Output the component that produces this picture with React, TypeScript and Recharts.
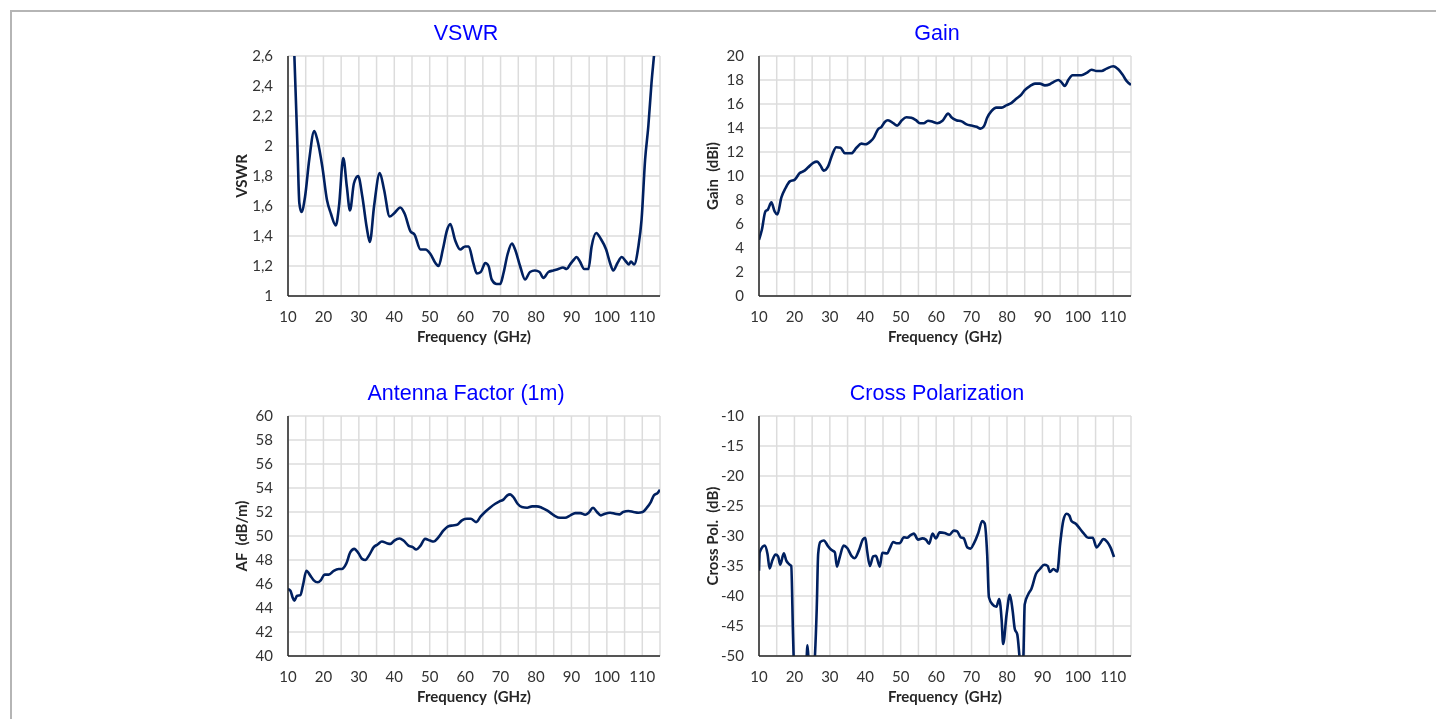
import { LineChart, Line, XAxis, YAxis, CartesianGrid } from "recharts";

// frequency grid / tick positions (GHz)
const freqTicks = [10, 15, 20, 25, 30, 35, 40, 45, 50, 55, 60, 65, 70, 75, 80, 85, 90, 95, 100, 105, 110, 115];

// VSWR
const vswrFreq = [
  10, 11, 11.8, 12.7, 13.2, 13.8, 14.8, 16.0, 17.4, 18.3,
  19.7, 21.0, 22.1, 23.5, 24.4, 25.6, 26.6, 27.5, 28.6, 29.8,
  31.0, 32.2, 33.1, 34.3, 35.9, 37.1, 38.7, 39.9, 41.7, 42.9,
  44.6, 45.7, 47.4, 48.8, 50.2, 51.6, 52.5, 53.7, 54.9, 55.8,
  57.2, 58.6, 60.0, 61.0, 62.3, 63.3, 64.4, 65.7, 66.6, 67.5,
  68.9, 69.9, 70.8, 72.0, 73.2, 74.1, 75.5, 76.9, 78.3, 79.7,
  81.0, 82.1, 83.5, 84.9, 86.3, 87.6, 88.7, 89.6, 90.6, 91.5,
  92.4, 93.6, 94.8, 95.7, 97.0, 98.3, 99.8, 100.9, 101.8, 103.0,
  104.2, 105.4, 106.2, 106.8, 107.7, 108.9, 109.8, 110.8, 111.7, 112.6,
  113.3, 114.2, 115,
];
const vswrValues = [
  3.4, 3.0, 2.6, 1.97, 1.62, 1.56, 1.66, 1.91, 2.10, 2.04,
  1.86, 1.64, 1.55, 1.47, 1.6, 1.92, 1.73, 1.57, 1.75, 1.8,
  1.66, 1.46, 1.36, 1.6, 1.82, 1.71, 1.53, 1.55, 1.59, 1.55,
  1.43, 1.41, 1.31, 1.31, 1.28, 1.22, 1.2, 1.31, 1.44, 1.48,
  1.37, 1.31, 1.33, 1.33, 1.22, 1.15, 1.16, 1.22, 1.2, 1.11,
  1.08, 1.08, 1.15, 1.28, 1.35, 1.31, 1.2, 1.11, 1.16, 1.17,
  1.16, 1.12, 1.16, 1.17, 1.18, 1.19, 1.18, 1.21, 1.24, 1.26,
  1.23, 1.18, 1.18, 1.33, 1.42, 1.38, 1.31, 1.22, 1.17, 1.22,
  1.26, 1.23, 1.21, 1.23, 1.21, 1.33, 1.51, 1.91, 2.13, 2.42,
  2.6, 2.85, 3.05,
];
const vswrTicks = [1, 1.2, 1.4, 1.6, 1.8, 2, 2.2, 2.4, 2.6];

// Gain (dBi)
const gainFreq = [
  10, 10.8, 11.8, 12.5, 13.5, 14.4, 15.2, 16.3, 17.5, 18.7,
  20.1, 21.5, 22.6, 23.8, 25.3, 26.4, 27.3, 28.3, 29.5, 30.7,
  31.8, 33.0, 34.2, 36.1, 37.5, 38.9, 40.1, 41.5, 42.4, 43.6,
  44.6, 45.5, 46.4, 47.9, 49.0, 50.2, 51.6, 53.0, 54.3, 55.4,
  56.5, 57.7, 59.2, 60.3, 61.8, 63.4, 64.3, 65.7, 67.2, 68.6,
  70.0, 71.4, 72.5, 73.5, 74.4, 75.6, 77.0, 78.5, 79.9, 81.3,
  82.7, 84.1, 85.0, 86.5, 87.9, 89.3, 90.7, 92.1, 93.2, 94.5,
  95.4, 96.3, 97.3, 98.5, 99.6, 101.0, 102.5, 103.9, 105.3, 106.7,
  108.1, 110.0, 111.4, 112.6, 113.8, 115,
];
const gainValues = [
  4.68, 5.5, 7.05, 7.2, 7.8, 7.05, 6.8, 8.2, 9.0, 9.55,
  9.7, 10.25, 10.4, 10.7, 11.1, 11.2, 10.9, 10.45, 10.8, 11.8,
  12.4, 12.35, 11.9, 11.9, 12.35, 12.7, 12.65, 12.9, 13.2, 13.9,
  14.1, 14.5, 14.65, 14.4, 14.2, 14.6, 14.9, 14.85, 14.65, 14.4,
  14.4, 14.6, 14.5, 14.4, 14.6, 15.2, 14.9, 14.65, 14.55, 14.3,
  14.2, 14.1, 13.95, 14.15, 14.85, 15.4, 15.7, 15.7, 15.9, 16.1,
  16.45, 16.8, 17.15, 17.5, 17.7, 17.7, 17.55, 17.65, 17.85, 18.0,
  17.8, 17.5, 18.0, 18.4, 18.4, 18.4, 18.6, 18.85, 18.75, 18.75,
  18.95, 19.15, 18.9, 18.45, 17.9, 17.6,
];
const gainTicks = [0, 2, 4, 6, 8, 10, 12, 14, 16, 18, 20];

// Antenna factor (dB/m)
const afFreq = [
  10, 10.7, 11.3, 11.8, 12.5, 13.5, 14.2, 15.2, 16.3, 17.2,
  18.4, 19.3, 20.3, 21.5, 22.9, 24.3, 25.2, 26.4, 27.6, 28.7,
  29.9, 30.9, 31.8, 33.0, 34.2, 35.3, 36.5, 37.9, 38.9, 40.0,
  41.5, 42.6, 44.0, 45.2, 46.2, 47.3, 48.7, 50.1, 51.1, 52.5,
  53.9, 55.3, 56.5, 57.7, 59.1, 60.5, 61.6, 63.1, 64.4, 65.6,
  67.0, 68.5, 69.7, 70.8, 71.9, 72.7, 73.6, 74.8, 76.0, 77.5,
  78.9, 80.2, 81.6, 83.1, 84.2, 85.4, 86.8, 88.2, 89.7, 91.1,
  92.5, 93.9, 94.8, 96.1, 97.2, 98.3, 99.5, 100.9, 102.3, 103.5,
  104.6, 106.1, 107.5, 108.9, 110.1, 111.3, 112.4, 113.3, 114.3, 115,
];
const afValues = [
  45.58, 45.44, 44.88, 44.6, 45.0, 45.08, 45.86, 47.1, 46.7, 46.33,
  46.14, 46.33, 46.78, 46.78, 47.1, 47.25, 47.25, 47.67, 48.65, 48.93,
  48.56, 48.09, 48.0, 48.45, 49.07, 49.29, 49.54, 49.4, 49.34, 49.62,
  49.79, 49.62, 49.2, 49.07, 48.87, 49.15, 49.76, 49.62, 49.54, 49.9,
  50.46, 50.82, 50.88, 50.93, 51.3, 51.44, 51.44, 51.16, 51.63, 52.0,
  52.36, 52.69, 52.89, 53.03, 53.39, 53.47, 53.25, 52.69, 52.41, 52.36,
  52.47, 52.47, 52.36, 52.13, 51.91, 51.66, 51.52, 51.52, 51.72, 51.91,
  51.91, 51.77, 51.91, 52.36, 52.0, 51.72, 51.86, 51.94, 51.86, 51.8,
  52.0, 52.08, 52.0, 51.94, 52.0, 52.36, 52.83, 53.39, 53.58, 53.86,
];
const afTicks = [40, 42, 44, 46, 48, 50, 52, 54, 56, 58, 60];

// Cross polarization (dB)
const xpolFreq = [
  10, 10.2, 11.6, 12.4, 13.0, 13.8, 14.7, 15.4, 16.0, 17.0,
  17.7, 18.5, 19.1, 19.6, 19.9, 21.0, 22.5, 23.3, 23.7, 24.1,
  25.0, 25.7, 26.3, 26.7, 27.3, 28.3, 29.5, 30.4, 31.4, 32.0,
  32.8, 33.9, 34.9, 36.1, 37.0, 38.2, 39.4, 40.0, 40.5, 41.3,
  42.2, 43.0, 44.1, 44.8, 46.2, 46.9, 47.9, 48.8, 49.7, 50.9,
  51.8, 52.7, 53.7, 54.9, 56.1, 57.1, 58.0, 59.0, 59.9, 61.0,
  62.4, 63.7, 65.0, 65.9, 66.9, 67.8, 68.8, 69.7, 70.6, 71.9,
  73.0, 73.7, 74.4, 74.9, 75.9, 77.0, 77.8, 78.5, 78.9, 79.9,
  80.8, 81.6, 82.2, 82.9, 83.6, 84.1, 84.6, 85.0, 86.0, 86.9,
  88.2, 89.3, 90.5, 91.5, 92.1, 93.1, 94.2, 95.0, 95.9, 96.8,
  97.6, 98.2, 99.5, 100.6, 101.7, 102.9, 104.2, 105.3, 106.2, 107.2,
  108.3, 109.2, 110.2,
];
const xpolValues = [
  -35.8, -32.7, -31.6, -33.0, -35.4, -34.0, -33.1, -33.4, -34.8, -32.9,
  -34.1, -34.7, -35.0, -46.4, -52, -57, -56, -52, -48.2, -52,
  -55, -51, -42, -33, -31.0, -30.75, -31.7, -32.3, -32.7, -35.1,
  -33.5, -31.6, -32.0, -33.3, -33.7, -32.4, -30.5, -30.3, -32.4, -35.0,
  -33.4, -33.3, -35.1, -32.8, -32.9, -32.1, -31.0, -31.2, -31.2, -30.2,
  -30.3, -29.9, -29.6, -30.6, -30.4, -30.6, -31.3, -29.6, -30.4, -29.4,
  -29.5, -29.8, -29.1, -29.2, -30.2, -30.4, -31.9, -32.1, -31.3, -29.5,
  -27.5, -27.9, -33.0, -40.2, -41.4, -41.8, -40.5, -44.1, -48.0, -43.0,
  -39.8, -42.5, -45.5, -46.4, -50.5, -53, -50.5, -41.4, -39.7, -38.8,
  -36.3, -35.5, -34.8, -35.0, -36.0, -35.5, -35.9, -31.3, -27.4, -26.3,
  -26.6, -27.5, -28.0, -28.8, -29.6, -30.3, -30.3, -31.9, -31.3, -30.5,
  -31.0, -31.9, -33.5,
];
const xpolTicks = [-50, -45, -40, -35, -30, -25, -20, -15, -10];

const tickFont = { fontFamily: "Lato, sans-serif", fontSize: 15, fill: "#333333" };
const axisTitle: React.CSSProperties = {
  position: "absolute",
  fontFamily: "Lato, sans-serif",
  fontSize: 15,
  fontWeight: 700,
  color: "#262626",
  whiteSpace: "pre",
};

function Panel(props: {
  title: string;
  yLabel: string;
  freq: number[];
  values: number[];
  yDomain: [number, number];
  yTicks: number[];
  fmt?: (v: number) => string;
  left: number;
  top: number;
}) {
  const data = props.freq.map((f, i) => ({ f, v: props.values[i] }));
  return (
    <div style={{ position: "absolute", left: props.left, top: props.top, width: 462, height: 310 }}>
      <div
        style={{
          position: "absolute",
          top: -25,
          left: 0,
          width: 516,
          textAlign: "center",
          lineHeight: "24px",
          fontFamily: "'Liberation Sans', Arial, sans-serif",
          fontSize: 21.5,
          color: "#0000ff",
        }}
      >
        {props.title}
      </div>
      <div style={{ ...axisTitle, left: 33, top: 130, transform: "translate(-50%, -50%) rotate(-90deg)" }}>
        {props.yLabel}
      </div>
      <div style={{ ...axisTitle, left: 266, top: 290, transform: "translate(-50%, -50%)" }}>
        {"Frequency  (GHz)"}
      </div>
      <LineChart width={462} height={310} data={data} margin={{ top: 10, right: 10, bottom: 0, left: 0 }}>
        <CartesianGrid stroke="#dcdcdc" strokeWidth={1.5} />
        <XAxis
          type="number"
          dataKey="f"
          domain={[10, 115]}
          ticks={freqTicks}
          interval={0}
          allowDataOverflow
          tickFormatter={(v: number) => (v % 10 === 0 && v <= 110 ? String(v) : "")}
          tickLine={false}
          tickMargin={9}
          axisLine={{ stroke: "#262626", strokeWidth: 1.5 }}
          tick={tickFont}
          height={60}
        />
        <YAxis
          type="number"
          domain={props.yDomain}
          ticks={props.yTicks}
          interval={0}
          allowDataOverflow
          tickFormatter={props.fmt}
          tickLine={false}
          tickMargin={9}
          axisLine={{ stroke: "#262626", strokeWidth: 1.5 }}
          tick={tickFont}
          width={80}
        />
        <Line
          type="monotone"
          dataKey="v"
          stroke="#002060"
          strokeWidth={2.6}
          dot={false}
          isAnimationActive={false}
        />
      </LineChart>
    </div>
  );
}

export default function App() {
  return (
    <div style={{ position: "relative", width: 1420, height: 703, background: "#fff" }}>
      <div
        style={{
          position: "fixed",
          left: 10,
          top: 10,
          width: 1600,
          height: 900,
          border: "2px solid #b5b5b5",
        }}
      />
      <Panel
        title="VSWR"
        yLabel="VSWR"
        freq={vswrFreq}
        values={vswrValues}
        yDomain={[1, 2.6]}
        yTicks={vswrTicks}
        fmt={(v: number) => String(v).replace(".", ",")}
        left={200}
        top={38}
      />
      <Panel
        title="Gain"
        yLabel="Gain  (dBi)"
        freq={gainFreq}
        values={gainValues}
        yDomain={[0, 20]}
        yTicks={gainTicks}
        left={671}
        top={38}
      />
      <Panel
        title="Antenna Factor (1m)"
        yLabel="AF  (dB/m)"
        freq={afFreq}
        values={afValues}
        yDomain={[40, 60]}
        yTicks={afTicks}
        left={200}
        top={398}
      />
      <Panel
        title="Cross Polarization"
        yLabel="Cross Pol.  (dB)"
        freq={xpolFreq}
        values={xpolValues}
        yDomain={[-50, -10]}
        yTicks={xpolTicks}
        left={671}
        top={398}
      />
    </div>
  );
}
